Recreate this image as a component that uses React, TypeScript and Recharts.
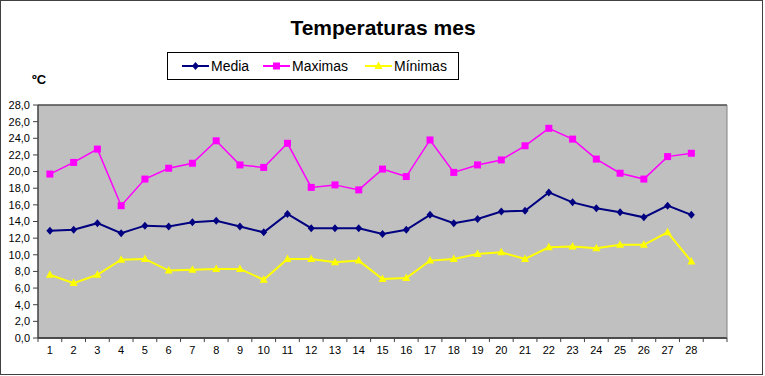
import React from 'react';
import { LineChart, Line, XAxis, YAxis, CartesianGrid } from 'recharts';

const dias = ['1', '2', '3', '4', '5', '6', '7', '8', '9', '10', '11', '12', '13', '14', '15', '16', '17', '18', '19', '20', '21', '22', '23', '24', '25', '26', '27', '28', ''];
const media = [12.9, 13.0, 13.8, 12.6, 13.5, 13.4, 13.9, 14.1, 13.4, 12.7, 14.9, 13.2, 13.2, 13.2, 12.5, 13.0, 14.8, 13.8, 14.3, 15.2, 15.3, 17.5, 16.3, 15.6, 15.1, 14.5, 15.9, 14.8, null];
const maximas = [19.7, 21.1, 22.7, 15.9, 19.1, 20.4, 21.0, 23.7, 20.8, 20.5, 23.4, 18.1, 18.4, 17.8, 20.3, 19.4, 23.8, 19.9, 20.8, 21.4, 23.1, 25.2, 23.9, 21.5, 19.8, 19.1, 21.8, 22.2, null];
const minimas = [7.6, 6.6, 7.6, 9.4, 9.5, 8.1, 8.2, 8.3, 8.3, 7.0, 9.5, 9.5, 9.1, 9.3, 7.1, 7.2, 9.3, 9.5, 10.1, 10.3, 9.5, 10.9, 11.0, 10.8, 11.2, 11.2, 12.7, 9.2, null];
const yTicks = [0, 2, 4, 6, 8, 10, 12, 14, 16, 18, 20, 22, 24, 26, 28];

const data = dias.map((d, i) => ({ dia: d, media: media[i], maximas: maximas[i], minimas: minimas[i] }));

const W = 765;
const H = 376;
const LEFT = 38;
const RIGHT = 38;
const FONT = '"Liberation Sans", Arial, sans-serif';
const bandW = (W - LEFT - RIGHT) / dias.length;

const Diamond = (props: any) => {
  const { cx, cy, fill } = props;
  if (cx == null || cy == null || props.value == null) return null;
  return <polygon points={`${cx},${cy - 4} ${cx + 3.5},${cy} ${cx},${cy + 4} ${cx - 3.5},${cy}`} fill={fill} />;
};

const Square = (props: any) => {
  const { cx, cy, fill } = props;
  if (cx == null || cy == null || props.value == null) return null;
  return <rect x={cx - 3.5} y={cy - 3.5} width={7} height={7} fill={fill} />;
};

const Triangle = (props: any) => {
  const { cx, cy, fill } = props;
  if (cx == null || cy == null || props.value == null) return null;
  return <polygon points={`${cx},${cy - 4.5} ${cx + 4},${cy + 3} ${cx - 4},${cy + 3}`} fill={fill} />;
};

const XTick = (props: any) => {
  const { x, y, payload, index } = props;
  const axisY = y - 8;
  return (
    <g>
      <line x1={x - bandW / 2} x2={x - bandW / 2} y1={axisY} y2={axisY + 4} stroke="#404040" />
      {index === dias.length - 1 && (
        <line x1={x + bandW / 2} x2={x + bandW / 2} y1={axisY} y2={axisY + 4} stroke="#404040" />
      )}
      <text x={x} y={y} dy="0.71em" textAnchor="middle" fontSize={11} fontFamily={FONT} fill="#000">
        {payload.value}
      </text>
    </g>
  );
};

const LegendItem = ({ left, color, label, marker }: any) => (
  <div style={{ position: 'absolute', left, top: 0, height: 26, display: 'flex', alignItems: 'center' }}>
    <svg width={28} height={12}>
      <line x1={0} x2={27} y1={6} y2={6} stroke={color} strokeWidth={2} />
      {marker === 'diamond' && <polygon points="13.5,2 17,6 13.5,10 10,6" fill={color} />}
      {marker === 'square' && <rect x={10} y={2.5} width={7} height={7} fill={color} />}
      {marker === 'triangle' && <polygon points="13.5,1.5 17.5,9 9.5,9" fill={color} />}
    </svg>
    <span style={{ fontSize: 14, fontFamily: FONT, color: '#000', marginLeft: 1 }}>{label}</span>
  </div>
);

export default function App() {
  return (
    <div style={{ position: 'absolute', left: 0, top: 0, width: W, height: H, background: '#fff', overflow: 'hidden' }}>
      <div style={{ position: 'absolute', left: 0, top: 0, width: 763, height: 375, border: '1px solid #404040', boxSizing: 'border-box' }} />
      <div style={{ position: 'absolute', left: 0, top: 17, width: 766, textAlign: 'center', fontSize: 21, lineHeight: 1, fontWeight: 'bold', fontFamily: FONT }}>
        Temperaturas mes
      </div>
      <div style={{ position: 'absolute', left: 167, top: 52, width: 292, height: 28, border: '1px solid #000', boxSizing: 'border-box', background: '#fff' }}>
        <LegendItem left={14} color="#000080" label="Media" marker="diamond" />
        <LegendItem left={95} color="#FF00FF" label="Maximas" marker="square" />
        <LegendItem left={197} color="#FFFF00" label="Mínimas" marker="triangle" />
      </div>
      <div style={{ position: 'absolute', left: 32, top: 72, fontSize: 13, fontWeight: 'bold', fontFamily: FONT }}>ºC</div>
      <div style={{ position: 'absolute', left: 0, top: 0 }}>
        <LineChart width={W} height={H} data={data} margin={{ top: 105, right: RIGHT - 1, bottom: 8, left: 0 }}>
          <CartesianGrid vertical={false} fill="#C0C0C0" fillOpacity={1} stroke="#4a4a4a" strokeWidth={1.6} />
          <XAxis
            dataKey="dia"
            scale="band"
            interval={0}
            height={30}
            axisLine={{ stroke: '#404040', strokeWidth: 1.5 }}
            tickLine={false}
            tick={<XTick />}
          />
          <YAxis
            yAxisId="l"
            width={LEFT}
            domain={[0, 28]}
            ticks={yTicks}
            interval={0}
            tickSize={5}
            tickMargin={3}
            axisLine={{ stroke: '#404040', strokeWidth: 1.5 }}
            tickLine={{ stroke: '#404040' }}
            tick={{ fill: '#000', fontSize: 11, fontFamily: FONT }}
            tickFormatter={(v: number) => v.toFixed(1).replace('.', ',')}
          />
          <YAxis yAxisId="r" orientation="right" width={1} domain={[0, 28]} tick={false} tickLine={false} axisLine={{ stroke: '#808080' }} />
          <Line yAxisId="l" dataKey="media" stroke="#000080" strokeWidth={2} dot={<Diamond fill="#000080" />} isAnimationActive={false} />
          <Line yAxisId="l" dataKey="maximas" stroke="#FF00FF" strokeWidth={1.5} dot={<Square fill="#FF00FF" />} isAnimationActive={false} />
          <Line yAxisId="l" dataKey="minimas" stroke="#FFFF00" strokeWidth={2} dot={<Triangle fill="#FFFF00" />} isAnimationActive={false} />
        </LineChart>
      </div>
    </div>
  );
}
